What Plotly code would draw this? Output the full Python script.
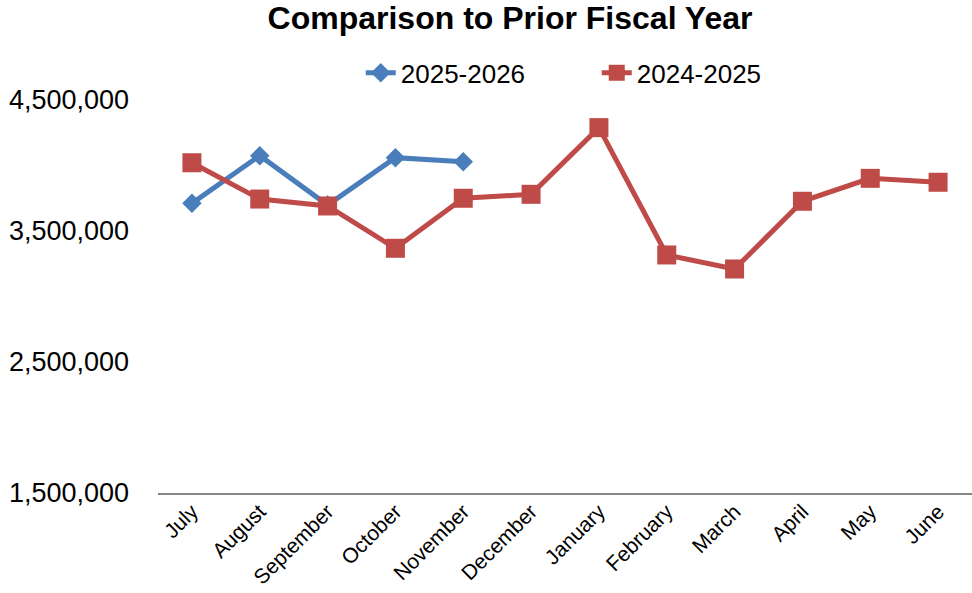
import plotly.graph_objects as go

months = ["July", "August", "September", "October", "November", "December",
          "January", "February", "March", "April", "May", "June"]
fy_2025_2026 = [3711000, 4075000, 3698000, 4060000, 4029000]
fy_2024_2025 = [4021000, 3744000, 3691000, 3368000, 3750000, 3780000,
                4289000, 3317000, 3210000, 3727000, 3902000, 3872000]
y_ticks = [1500000, 2500000, 3500000, 4500000]

blue = "#4A7EBB"
red = "#BE4B48"

fig = go.Figure()
fig.add_trace(go.Scatter(
    x=months[:len(fy_2025_2026)], y=fy_2025_2026, name="2025-2026",
    mode="lines+markers",
    line=dict(color=blue, width=5),
    marker=dict(symbol="diamond", size=15, color=blue),
))
fig.add_trace(go.Scatter(
    x=months, y=fy_2024_2025, name="2024-2025",
    mode="lines+markers",
    line=dict(color=red, width=5),
    marker=dict(symbol="square", size=19, color=red),
))

fig.update_layout(
    width=972, height=593,
    paper_bgcolor="white", plot_bgcolor="white",
    margin=dict(l=158, r=0, t=100, b=100),
    hovermode=False,
    font=dict(family="Liberation Sans, Arial, sans-serif", color="black"),
    title=dict(text="<b>Comparison to Prior Fiscal Year</b>",
               x=0.5247, xanchor="center", y=0.989, yanchor="top",
               pad=dict(t=0, b=0),
               font=dict(size=32, color="black")),
    legend=dict(orientation="h", x=0.539, xanchor="center", y=1.069, yanchor="middle",
                font=dict(size=26), entrywidth=191, entrywidthmode="pixels",
                bgcolor="rgba(0,0,0,0)"),
    xaxis=dict(categoryorder="array", categoryarray=months,
               range=[-0.5, 11.5],
               showline=True, linecolor="#868686", linewidth=2,
               showgrid=False, ticks="", tickangle=-45,
               ticklabelstandoff=-4,
               tickfont=dict(size=21)),
    yaxis=dict(range=[1500000, 4500000], tickvals=y_ticks,
               tickformat=",d", showgrid=False, zeroline=False,
               showline=False, ticks="", ticklabelstandoff=28,
               tickfont=dict(size=27)),
)

fig.write_html("out.html", config={"displayModeBar": False},
               post_script="document.body.style.margin='0px';")
